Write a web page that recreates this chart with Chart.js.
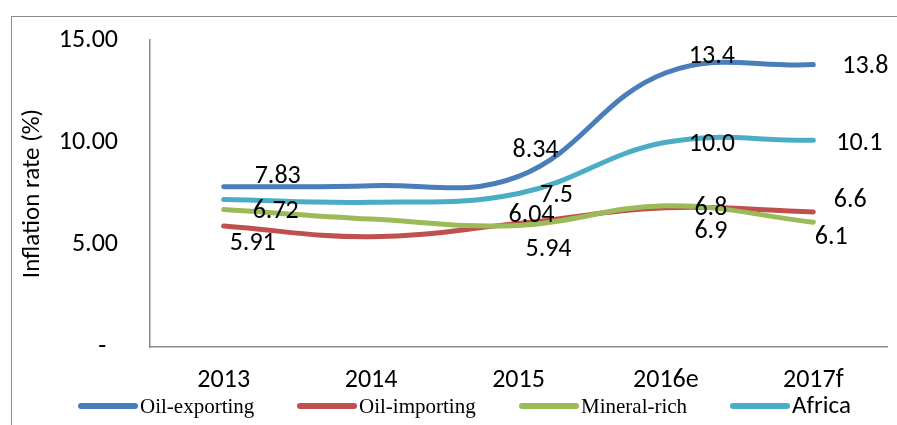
<!DOCTYPE html>
<html>
<head>
<meta charset="utf-8">
<script src="https://cdn.jsdelivr.net/npm/chart.js@4.4.1/dist/chart.umd.min.js"></script>
<style>
    body { margin: 0; background: #fff; }
    #wrap { position: relative; width: 897px; height: 425px; overflow: hidden; }
    #frame { position: absolute; left: 11px; top: 16px; width: 1000px; height: 500px;
             border-left: 1px solid #8c8c8c; border-top: 1px solid #8c8c8c; }
    canvas { position: absolute; left: 0; top: 0; }
</style>
</head>
<body>
<div id="wrap">
    <div id="frame"></div>
    <canvas id="LineChart" width="897" height="425"></canvas>
</div>
<script>
// data
var years = ['2013', '2014', '2015', '2016e', '2017f'];
var oilExporting = [7.83, 7.88, 8.34, 13.4, 13.8];
var oilImporting = [5.91, 5.39, 6.04, 6.8, 6.6];
var mineralRich = [6.72, 6.25, 5.94, 6.9, 6.1];
var africa = [7.21, 7.07, 7.5, 10.0, 10.1];

// printed data labels (null = no label on that point)
var oilExportingLabels = ['7.83', null, '8.34', '13.4', '13.8'];
var oilImportingLabels = ['5.91', null, '6.04', '6.8', '6.6'];
var mineralRichLabels = ['6.72', null, '5.94', '6.9', '6.1'];
var africaLabels = [null, null, '7.5', '10.0', '10.1'];

var seriesNames = ['Oil-exporting', 'Oil-importing', 'Mineral-rich', 'Africa'];
var yMin = 0, yMax = 15, yStep = 5;

// styling
var colors = ['#4a7ebb', '#c0504d', '#9bbb59', '#4bacc6'];
var sans = 'Carlito, Lato, sans-serif';
var serif = '"Liberation Serif", "Times New Roman", serif';

// label offsets from their point, px
var labelOffsets = [
    [[54, -10], null, [17, -26], [46, -16], [52, 2]],
    [[29, 17], null, [13, -8], [45, 1], [37, -11]],
    [[52, 2], null, [30, 24], [45, 26], [18, 15]],
    [null, null, [38, 2], [46, 2], [46, 3]]
];
var allLabels = [oilExportingLabels, oilImportingLabels, mineralRichLabels, africaLabels];

// legend layout
var legendX = [81, 300, 522, 733];
var legendFonts = [serif, serif, serif, sans];
var legendY = 406;

var dataLabelPlugin = {
    id: 'dataLabels',
    afterDatasetsDraw: function (chart) {
        var ctx = chart.ctx;
        ctx.save();
        ctx.fillStyle = '#000';
        ctx.font = '26px ' + sans;
        ctx.textAlign = 'center';
        ctx.textBaseline = 'middle';
        allLabels.forEach(function (labels, di) {
            var meta = chart.getDatasetMeta(di);
            labels.forEach(function (txt, i) {
                if (txt === null) return;
                var pt = meta.data[i];
                var off = labelOffsets[di][i];
                ctx.fillText(txt, pt.x + off[0], pt.y + off[1]);
            });
        });
        ctx.restore();
    }
};

var legendPlugin = {
    id: 'bottomLegend',
    afterDraw: function (chart) {
        var ctx = chart.ctx;
        ctx.save();
        seriesNames.forEach(function (name, i) {
            var x = legendX[i];
            ctx.strokeStyle = colors[i];
            ctx.lineWidth = 6;
            ctx.lineCap = 'round';
            ctx.beginPath();
            ctx.moveTo(x, legendY);
            ctx.lineTo(x + 54, legendY);
            ctx.stroke();
            ctx.fillStyle = '#000';
            ctx.font = (legendFonts[i] === sans ? '25px ' : '21px ') + legendFonts[i];
            ctx.textAlign = 'left';
            ctx.textBaseline = 'middle';
            ctx.fillText(name, x + 59, legendY + 1);
        });
        ctx.restore();
    }
};

var seriesData = [oilExporting, oilImporting, mineralRich, africa];

var ctx = document.getElementById('LineChart').getContext('2d');
var myLineChart = new Chart(ctx, {
    type: 'line',
    data: {
        labels: years,
        datasets: seriesNames.map(function (name, i) {
            return {
                label: name,
                data: seriesData[i],
                borderColor: colors[i],
                backgroundColor: colors[i],
                borderWidth: 5,
                borderCapStyle: 'round',
                tension: 0.4,
                pointRadius: 0,
                fill: false,
                order: 4 - i
            };
        })
    },
    options: {
        responsive: false,
        animation: false,
        layout: {
            padding: { left: 0, right: 10, top: 40, bottom: 0 }
        },
        plugins: {
            legend: { display: false },
            tooltip: { enabled: false }
        },
        scales: {
            x: {
                offset: true,
                grid: { display: false, drawTicks: false },
                border: { display: true, color: '#8c8c8c', width: 1.5 },
                ticks: {
                    color: '#000',
                    padding: 18,
                    font: { family: sans, size: 26 }
                },
                afterFit: function (scale) { scale.height = 78; }
            },
            y: {
                min: yMin,
                max: yMax,
                grid: { display: false, drawTicks: false },
                border: { display: true, color: '#8c8c8c', width: 1.5 },
                ticks: {
                    stepSize: yStep,
                    color: '#000',
                    padding: 32,
                    font: { family: sans, size: 26 },
                    callback: function (v) { return v === 0 ? '-  ' : v.toFixed(2); }
                },
                title: {
                    display: true,
                    text: 'Inflation rate (%)',
                    color: '#000',
                    font: { family: sans, size: 25 },
                    padding: { top: 18, bottom: 0 }
                },
                afterFit: function (scale) {
                    scale.width = 150;
                    // tick padding would otherwise push the plot top down
                    scale.paddingTop = 16;
                    scale.paddingBottom = 16;
                }
            }
        }
    },
    plugins: [dataLabelPlugin, legendPlugin]
});
</script>
</body>
</html>
